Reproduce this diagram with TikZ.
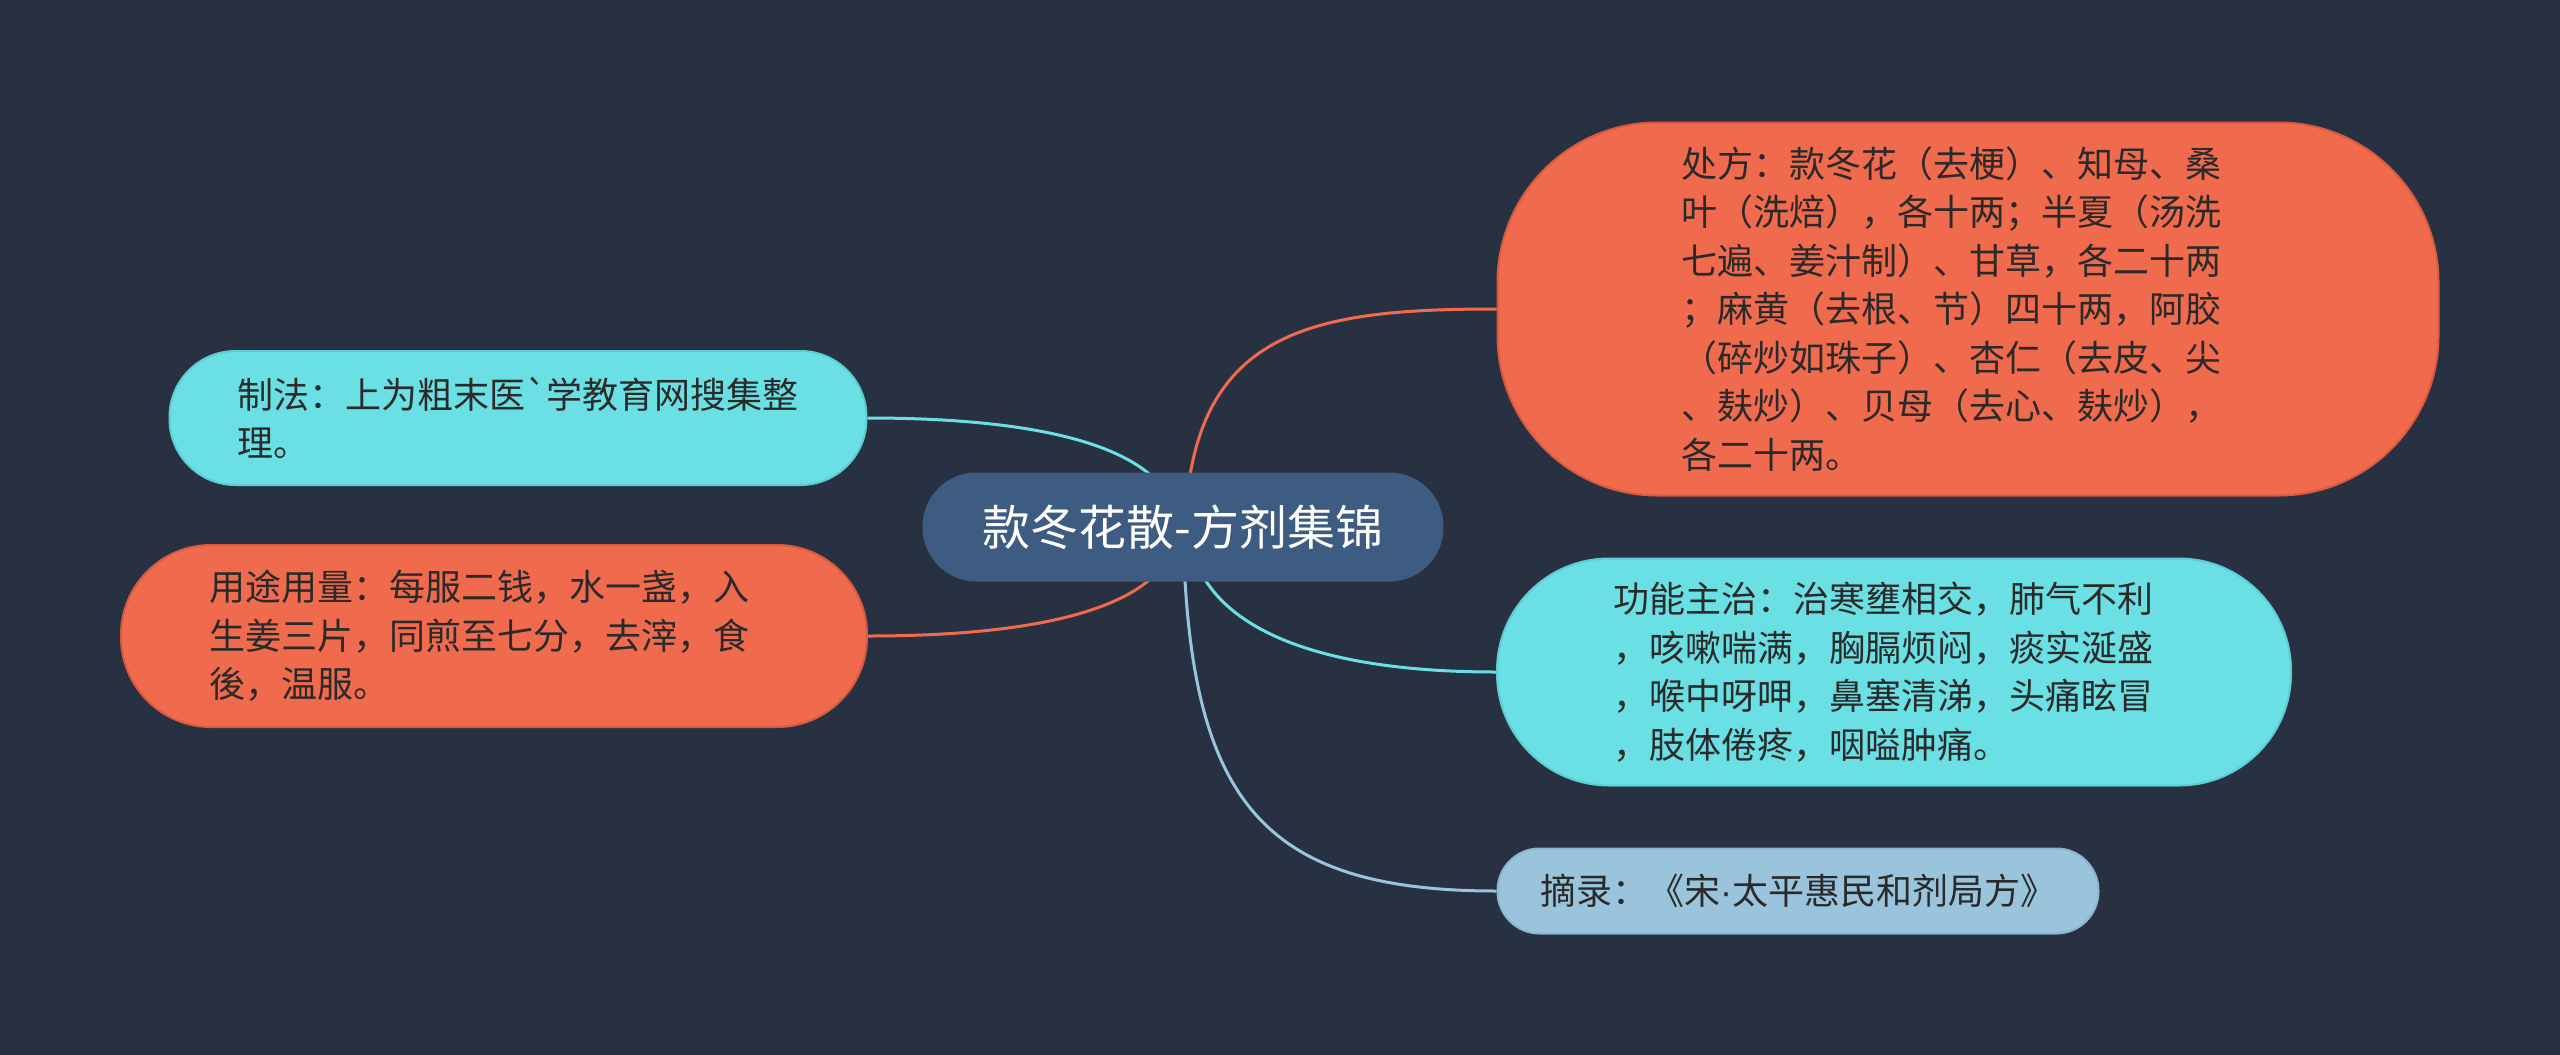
\documentclass[tikz,border=0pt]{standalone}
\usepackage{fontspec}
\newfontfamily\cjk{Noto Sans CJK SC}
\newfontfamily\latinf{Liberation Sans}
\definecolor{bgc}{HTML}{283142}
\definecolor{cenc}{HTML}{3E5B82}
\definecolor{orc}{HTML}{F06A4D}
\definecolor{orb}{HTML}{D95A3E}
\definecolor{cyc}{HTML}{6AE0E4}
\definecolor{cyb}{HTML}{5CCDD2}
\definecolor{lbc}{HTML}{99C4DC}
\definecolor{lbb}{HTML}{8AB5CD}
\definecolor{txc}{HTML}{2A2A2A}
\pgfdeclarelayer{bglayer}
\pgfdeclarelayer{conn}
\pgfsetlayers{bglayer,conn,main}
\begin{document}
\begin{tikzpicture}[x=1pt,y=-1pt,
  central/.style={fill=cenc, text=white, inner sep=0pt, font=\cjk\fontsize{48}{56}\selectfont},
  topic/.style={inner sep=0pt, align=left, text=txc, line width=2pt, font=\cjk\fontsize{36}{48.5}\selectfont},
  orangebox/.style={topic, fill=orc, draw=orb},
  cyanbox/.style={topic, fill=cyc, draw=cyb},
  bluebox/.style={topic, fill=lbc, draw=lbb},
  conline/.style={line width=3pt}
]
\begin{pgfonlayer}{bglayer}
\fill[bgc] (0,0) rectangle (2560,1055);
\end{pgfonlayer}
\useasboundingbox (0,0) rectangle (2560,1055);

\node[central, minimum width=521pt, minimum height=109pt, rounded corners=54pt] (c) at (1183,527) {款冬花散-方剂集锦};

\node[orangebox, minimum width=941pt, minimum height=373pt, rounded corners=160pt] (cf) at (1968,309)
 {处方：款冬花（去梗）、知母、桑\hspace*{34pt}\\叶（洗焙），各十两；半夏（汤洗\\七遍、姜汁制）、甘草，各二十两\\；麻黄（去根、节）四十两，阿胶\\（碎炒如珠子）、杏仁（去皮、尖\\、麸炒）、贝母（去心、麸炒），\\各二十两。};

\node[cyanbox, minimum width=794pt, minimum height=227pt, rounded corners=112pt] (gn) at (1894,672)
 {功能主治：治寒壅相交，肺气不利\hspace*{22pt}\\，咳嗽喘满，胸膈烦闷，痰实涎盛\\，喉中呀呷，鼻塞清涕，头痛眩冒\\，肢体倦疼，咽嗌肿痛。};

\node[bluebox, minimum width=601pt, minimum height=85pt, rounded corners=42pt] (zl) at (1798,891)
 {摘录：《宋{\latinf ·}太平惠民和剂局方》};

\node[cyanbox, minimum width=697pt, minimum height=134pt, rounded corners=66pt] (zf) at (518,418)
 {制法：上为粗末医`学教育网搜集整\\理。};

\node[orangebox, minimum width=746pt, minimum height=182pt, rounded corners=90pt] (yt) at (494,636)
 {用途用量：每服二钱，水一盏，入\hspace*{30pt}\\生姜三片，同煎至七分，去滓，食\\後，温服。};

\begin{pgfonlayer}{conn}
\draw[conline, orc] (c.center) ++(2,0) .. controls (1192,330) and (1310,309) .. (cf.west);
\draw[conline, cyc] (c.center) ++(5,0) .. controls (1195,620) and (1300,672) .. (gn.west);
\draw[conline, lbc] (c.center) .. controls (1188,800) and (1260,891) .. (zl.west);
\draw[conline, cyc] (c.center) ++(-5,0) .. controls (1172,440) and (1020,418) .. (zf.east);
\draw[conline, orc] (c.center) ++(-5,0) .. controls (1172,614) and (1020,636) .. (yt.east);
\end{pgfonlayer}
\end{tikzpicture}
\end{document}
